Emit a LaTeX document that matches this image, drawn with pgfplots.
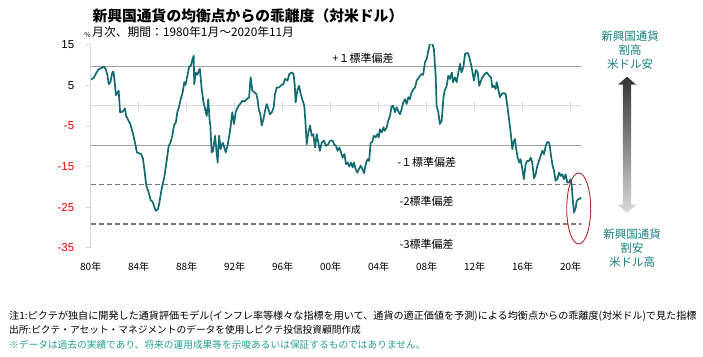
\documentclass[border=0pt]{standalone}
\usepackage{fontspec}
\setmainfont{Noto Sans CJK JP}
\newfontfamily\numfont{Liberation Sans}
\usepackage{pgfplots}
\usepackage{pgfplotstable}
\pgfplotsset{compat=1.18}
\definecolor{teal1}{HTML}{136B72}
\definecolor{annot}{HTML}{1B7F83}
\definecolor{foot}{HTML}{22A08E}
\definecolor{sdgray}{HTML}{A0A0A0}
\definecolor{dashgray}{HTML}{7A7A7A}
\definecolor{lgray}{HTML}{D9D9D9}
\definecolor{ellred}{HTML}{B22B2B}
\pgfplotstableread{
x y
1980.05 6.4
1980.25 6.9
1980.63 8.9
1980.9 9.3
1981.1 9.6
1981.25 9.05
1981.4 7.4
1981.5 5.3
1981.65 5.8
1981.8 8.2
1981.9 8.4
1982.0 5.8
1982.1 2.6
1982.25 3.3
1982.33 3.7
1982.45 -1.6
1982.65 -1.5
1982.86 -0.7
1982.95 -2.5
1983.3 -4.5
1983.55 -7.2
1983.75 -9.9
1983.85 -11.5
1984.0 -11.7
1984.2 -11.9
1984.35 -13.0
1984.47 -15.6
1984.6 -18.9
1984.65 -19.9
1984.8 -21.0
1985.0 -23.3
1985.15 -23.6
1985.28 -24.7
1985.42 -25.9
1985.6 -25.5
1985.7 -24.3
1985.86 -21.4
1986.0 -19.3
1986.15 -17.3
1986.33 -13.6
1986.5 -9.9
1986.65 -9.1
1986.8 -7.4
1986.95 -4.8
1987.1 -4.1
1987.22 -1.6
1987.35 -0.4
1987.5 1.6
1987.67 3.3
1987.8 5.8
1987.9 5.1
1988.0 6.6
1988.2 9.5
1988.35 9.9
1988.45 11.1
1988.58 12.3
1988.63 5.3
1988.75 8.1
1988.9 7.6
1989.0 8.6
1989.1 9.05
1989.25 4.1
1989.4 0.8
1989.5 -0.4
1989.67 -2.5
1989.8 1.6
1989.9 -3.3
1989.97 -4.9
1990.08 -11.5
1990.2 -11.1
1990.36 -7.4
1990.47 -10.7
1990.58 -14.0
1990.7 -7.4
1990.83 -10.7
1991.0 -9.1
1991.1 -9.9
1991.25 -11.5
1991.4 -9.9
1991.55 -7.4
1991.67 -4.9
1991.8 -1.6
1991.94 -4.5
1992.08 -1.6
1992.25 -0.4
1992.44 0.4
1992.64 1.2
1992.8 1.0
1993.0 1.6
1993.2 2.1
1993.33 7.0
1993.47 3.7
1993.64 3.3
1993.8 2.9
1993.9 1.6
1994.0 -0.8
1994.14 -2.1
1994.25 -4.9
1994.4 -3.3
1994.53 -1.2
1994.67 0.4
1994.8 -0.8
1994.94 -2.1
1995.1 -1.6
1995.25 -0.4
1995.36 2.9
1995.5 4.5
1995.7 4.5
1995.9 5.1
1996.05 5.3
1996.2 6.6
1996.4 6.2
1996.55 7.8
1996.75 8.2
1996.9 7.8
1997.0 5.3
1997.08 0.8
1997.22 3.7
1997.36 4.9
1997.5 2.9
1997.67 1.2
1997.8 0.0
1997.9 -4.1
1998.0 -9.5
1998.14 -6.6
1998.28 -4.9
1998.42 -7.4
1998.55 -7.0
1998.7 -10.3
1998.83 -7.0
1998.97 -9.1
1999.1 -11.1
1999.25 -9.1
1999.44 -8.6
1999.6 -9.9
1999.8 -9.5
1999.94 -8.6
2000.17 -8.6
2000.28 -9.5
2000.44 -9.9
2000.58 -11.1
2000.72 -10.3
2000.86 -11.5
2001.0 -12.8
2001.14 -11.9
2001.28 -14.4
2001.42 -14.0
2001.55 -15.0
2001.7 -14.0
2001.83 -15.2
2001.94 -14.0
2002.08 -15.6
2002.22 -16.5
2002.36 -15.6
2002.5 -14.8
2002.64 -15.6
2002.78 -16.6
2002.92 -14.4
2003.06 -13.2
2003.2 -13.6
2003.33 -9.2
2003.47 -8.9
2003.6 -7.4
2003.75 -7.8
2003.9 -7.0
2004.0 -7.8
2004.1 -5.8
2004.25 -6.6
2004.4 -5.3
2004.5 -6.2
2004.67 -5.3
2004.8 -3.7
2004.94 -2.5
2005.08 -0.2
2005.2 0.0
2005.36 -1.6
2005.5 -0.4
2005.6 -1.2
2005.78 -2.1
2005.92 -0.8
2006.05 0.8
2006.2 1.6
2006.33 0.4
2006.47 2.1
2006.6 1.6
2006.75 3.3
2006.9 4.1
2007.03 4.5
2007.17 6.2
2007.3 6.7
2007.45 7.4
2007.58 7.8
2007.7 7.6
2007.86 10.7
2008.0 11.5
2008.14 13.6
2008.28 15.3
2008.47 15.3
2008.6 14.0
2008.75 7.4
2008.83 0.0
2008.97 -1.6
2009.1 -4.5
2009.25 -3.7
2009.4 2.1
2009.5 3.7
2009.67 4.9
2009.8 7.4
2009.94 6.6
2010.1 8.2
2010.2 5.8
2010.36 7.0
2010.5 5.8
2010.64 8.2
2010.78 10.3
2010.9 8.2
2011.06 9.5
2011.2 12.8
2011.4 13.0
2011.5 12.5
2011.67 10.5
2011.8 8.6
2011.94 6.2
2012.1 8.8
2012.25 8.2
2012.38 4.9
2012.58 6.6
2012.78 7.6
2013.0 8.2
2013.2 7.4
2013.36 7.0
2013.47 4.5
2013.6 4.9
2013.75 4.1
2013.83 5.8
2013.97 4.1
2014.1 2.1
2014.25 2.9
2014.4 3.1
2014.58 2.9
2014.72 0.0
2014.86 -3.3
2015.0 -6.6
2015.14 -10.7
2015.22 -9.1
2015.36 -8.2
2015.44 -10.3
2015.58 -12.8
2015.72 -14.0
2015.83 -13.2
2015.97 -15.6
2016.1 -18.1
2016.25 -14.4
2016.39 -13.6
2016.53 -13.6
2016.67 -12.8
2016.8 -14.0
2016.94 -17.9
2017.08 -16.9
2017.22 -14.8
2017.36 -13.6
2017.5 -12.3
2017.64 -11.1
2017.78 -11.9
2017.92 -9.9
2018.06 -8.9
2018.2 -9.1
2018.28 -10.3
2018.36 -12.3
2018.47 -14.4
2018.61 -16.0
2018.75 -18.5
2018.89 -18.1
2019.03 -16.5
2019.17 -17.3
2019.3 -16.9
2019.44 -18.1
2019.58 -16.9
2019.72 -18.9
2019.86 -18.9
2020.0 -18.1
2020.08 -19.3
2020.17 -23.0
2020.28 -26.3
2020.42 -25.1
2020.5 -23.5
2020.64 -23.0
2020.78 -22.9
2020.86 -22.6
}\dev
\begin{document}
\begin{tikzpicture}[x=1pt,y=1pt]
\path[use as bounding box] (0,0) rectangle (703,356);
\begin{axis}[
  at={(90.7pt,108.2pt)}, anchor=south west, scale only axis,
  width=491pt, height=203pt,
  xmin=1980, xmax=2020.92, ymin=-35, ymax=15,
  axis lines=left,
  x axis line style={draw=none, -},
  y axis line style={lgray, line width=0.8pt, -},
  xtick={1980,1984,...,2020},
  xticklabels={80年,84年,88年,92年,96年,00年,04年,08年,12年,16年,20年},
  xtick style={draw=none},
  xticklabel style={font=\fontsize{10}{12}\selectfont, yshift=-6pt},
  ytick={15,5,-5,-15,-25,-35},
  yticklabels={15,5,\textcolor{red}{-5},\textcolor{red}{-15},\textcolor{red}{-25},\textcolor{red}{-35}},
  ytick style={lgray, line width=0.8pt},
  tick align=outside, major tick length=5pt,
  yticklabel style={font=\numfont\fontsize{11.5}{13}\selectfont, xshift=-8pt},
  clip=true,
]
\addplot[lgray, line width=0.8pt] coordinates {(1980,0) (2020.92,0)};
\addplot[lgray, line width=0.8pt, only marks, mark=|, mark size=4pt] coordinates {(1984,0) (1988,0) (1992,0) (1996,0) (2000,0) (2004,0) (2008,0) (2012,0) (2016,0) (2020,0)};
\addplot[sdgray, line width=1pt] coordinates {(1980,9.7) (2020.92,9.7)};
\addplot[sdgray, line width=1pt] coordinates {(1980,-9.7) (2020.92,-9.7)};
\addplot[dashgray, line width=1.7pt, dash pattern=on 5pt off 3pt] coordinates {(1980,-19.4) (2020.92,-19.4)};
\addplot[dashgray, line width=1.7pt, dash pattern=on 5pt off 3pt] coordinates {(1980,-29.1) (2020.92,-29.1)};
\addplot[teal1, line width=1.7pt, line join=round] table[x=x,y=y] {\dev};
\end{axis}
% title and subtitle
\node[anchor=west, font=\fontsize{14.8}{16}\selectfont\bfseries] at (89,340.5) {新興国通貨の均衡点からの乖離度（対米ドル）};
\node[anchor=east, font=\fontsize{7}{8}\selectfont, inner sep=0pt] at (91,321) {\%};
\node[anchor=west, font=\fontsize{11.8}{13}\selectfont, inner sep=0pt] at (92,323.5) {月次、期間：1980年1月～2020年11月};
% sd labels
\begin{scope}[font=\fontsize{11}{13}\selectfont]
\node at (363,298) {+１標準偏差};
\node at (426.7,193.3) {-１標準偏差};
\node at (426.7,155) {-2標準偏差};
\node at (426.7,111.7) {-3標準偏差};
\end{scope}
% ellipse
\draw[ellred, line width=0.9pt] (578.7,147.5) ellipse [x radius=12, y radius=35.5];
% right annotations
\node[annot, align=center, font=\fontsize{11.5}{14}\selectfont] at (630,306) {新興国通貨\\割高\\米ドル安};
\node[annot, align=center, font=\fontsize{11.5}{14}\selectfont] at (632,108.3) {新興国通貨\\割安\\米ドル高};
\shade[top color=black!80, bottom color=black!15]
  (627,279.3) -- (636,271.3) -- (631.2,271.3) -- (631.2,151.3) -- (636,151.3) -- (627,143.3)
  -- (618,151.3) -- (622.8,151.3) -- (622.8,271.3) -- (618,271.3) -- cycle;
% footnotes
\node[anchor=west, inner sep=0pt, font=\fontsize{10.1}{11}\selectfont] at (9,40) {注1:ピクテが独自に開発した通貨評価モデル(インフレ率等様々な指標を用いて、通貨の適正価値を予測)による均衡点からの乖離度(対米ドル)で見た指標};
\node[anchor=west, inner sep=0pt, font=\fontsize{9.7}{11}\selectfont] at (9,26) {出所:ピクテ・アセット・マネジメントのデータを使用しピクテ投信投資顧問作成};
\node[anchor=west, inner sep=0pt, foot, font=\fontsize{9.7}{11}\selectfont] at (9,11.7) {※データは過去の実績であり、将来の運用成果等を示唆あるいは保証するものではありません。};
\end{tikzpicture}
\end{document}
